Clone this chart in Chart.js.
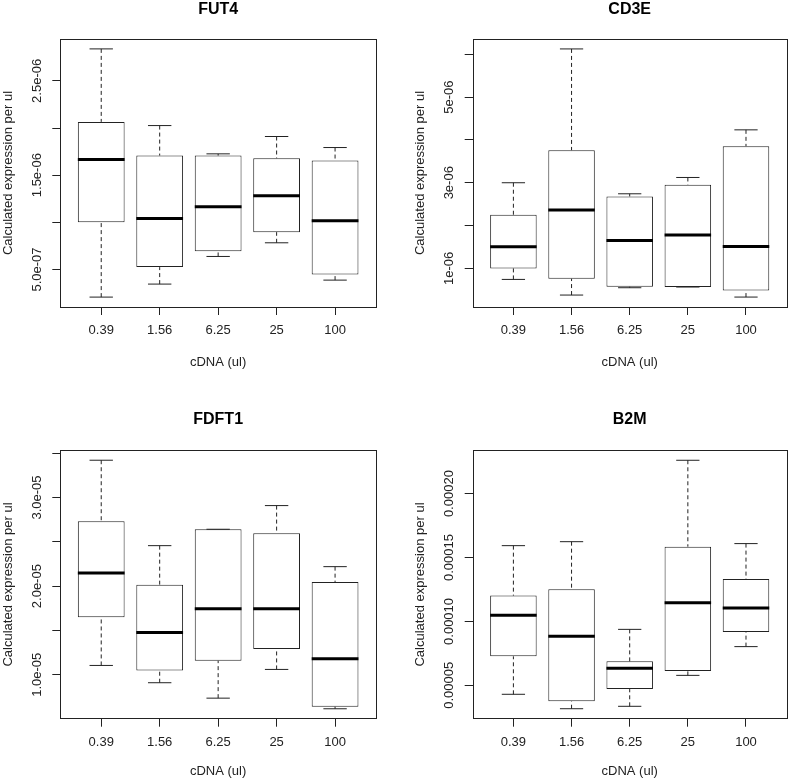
<!DOCTYPE html>
<html>
<head>
<meta charset="utf-8">
<script src="https://cdn.jsdelivr.net/npm/chart.js@4.4.1/dist/chart.umd.min.js"></script>
<style>
  body { margin: 0; background: #fff; }
  #wrap { position: relative; width: 790px; height: 784px; }
  #wrap canvas { position: absolute; }
</style>
</head>
<body>
<div id="wrap">
  <canvas id="fut4" width="395" height="392" style="left:0;top:0"></canvas>
  <canvas id="cd3e" width="395" height="392" style="left:395px;top:0"></canvas>
  <canvas id="fdft1" width="395" height="392" style="left:0;top:392px"></canvas>
  <canvas id="b2m" width="395" height="392" style="left:395px;top:392px"></canvas>
</div>
<script>
// categories (cDNA volume, ul)
const doses = ['0.39', '1.56', '6.25', '25', '100'];

// box stats: lower whisker, Q1, median, Q3, upper whisker
const fut4Lo  = [2.07e-7, 3.45e-7, 6.38e-7, 7.83e-7, 3.87e-7];
const fut4Q1  = [1.002e-6, 5.25e-7, 6.94e-7, 8.96e-7, 4.47e-7];
const fut4Med = [1.666e-6, 1.041e-6, 1.164e-6, 1.281e-6, 1.016e-6];
const fut4Q3  = [2.065e-6, 1.708e-6, 1.708e-6, 1.680e-6, 1.655e-6];
const fut4Hi  = [2.839e-6, 2.026e-6, 1.726e-6, 1.910e-6, 1.793e-6];

const cd3eLo  = [7.43e-7, 3.78e-7, 5.49e-7, 5.65e-7, 3.31e-7];
const cd3eQ1  = [1.000e-6, 7.59e-7, 5.72e-7, 5.65e-7, 4.87e-7];
const cd3eMed = [1.505e-6, 2.361e-6, 1.653e-6, 1.778e-6, 1.513e-6];
const cd3eQ3  = [2.252e-6, 3.760e-6, 2.680e-6, 2.952e-6, 3.854e-6];
const cd3eHi  = [3.000e-6, 6.124e-6, 2.742e-6, 3.123e-6, 4.235e-6];

const fdft1Lo  = [1.105e-5, 0.910e-5, 0.736e-5, 1.060e-5, 0.616e-5];
const fdft1Q1  = [1.648e-5, 1.049e-5, 1.158e-5, 1.290e-5, 0.639e-5];
const fdft1Med = [2.148e-5, 1.478e-5, 1.745e-5, 1.745e-5, 1.181e-5];
const fdft1Q3  = [2.732e-5, 2.017e-5, 2.642e-5, 2.596e-5, 2.047e-5];
const fdft1Hi  = [3.421e-5, 2.457e-5, 2.642e-5, 2.909e-5, 2.220e-5];

const b2mLo  = [4.30e-5, 3.17e-5, 3.36e-5, 5.78e-5, 8.03e-5];
const b2mQ1  = [7.27e-5, 3.75e-5, 4.71e-5, 6.12e-5, 9.17e-5];
const b2mMed = [10.48e-5, 8.84e-5, 6.33e-5, 11.47e-5, 11.05e-5];
const b2mQ3  = [12.02e-5, 12.51e-5, 6.88e-5, 15.85e-5, 13.32e-5];
const b2mHi  = [15.93e-5, 16.24e-5, 9.38e-5, 22.61e-5, 16.09e-5];

// y axis ranges and tick labels (empty = tick without label)
const fut4Range = [1.02e-7, 2.944e-6];
const fut4Ticks = [5e-7, 1e-6, 1.5e-6, 2e-6, 2.5e-6];
const fut4TickText = ['5.0e-07', '', '1.5e-06', '', '2.5e-06'];

const cd3eRange = [0.99e-7, 6.356e-6];
const cd3eTicks = [1e-6, 2e-6, 3e-6, 4e-6, 5e-6, 6e-6];
const cd3eTickText = ['1e-06', '', '3e-06', '', '5e-06', ''];

const fdft1Range = [0.504e-5, 3.533e-5];
const fdft1Ticks = [1e-5, 1.5e-5, 2e-5, 2.5e-5, 3e-5, 3.5e-5];
const fdft1TickText = ['1.0e-05', '', '2.0e-05', '', '3.0e-05', ''];

const b2mRange = [2.39e-5, 23.39e-5];
const b2mTicks = [5e-5, 10e-5, 15e-5, 20e-5];
const b2mTickText = ['0.00005', '0.00010', '0.00015', '0.00020'];

Chart.defaults.font.family = '"Liberation Sans", Arial, Helvetica, sans-serif';
Chart.defaults.font.size = 13;
Chart.defaults.color = '#222';

// frame round the plot + rotated y labels, like base R
const rFrame = {
    id: 'rFrame',
    afterDraw(chart, args, opts) {
        const { ctx, chartArea: a } = chart;
        const y = chart.scales.y;
        ctx.save();
        ctx.strokeStyle = '#222';
        ctx.lineWidth = 1;
        ctx.strokeRect(Math.round(a.left) + 0.5, Math.round(a.top) + 0.5,
            Math.round(a.right - a.left), Math.round(a.bottom - a.top));
        ctx.fillStyle = '#222';
        ctx.font = '13px "Liberation Sans", Arial, sans-serif';
        ctx.textAlign = 'center';
        ctx.textBaseline = 'middle';
        opts.values.forEach((v, i) => {
            if (!opts.text[i]) return;
            ctx.save();
            ctx.translate(a.left - 23, y.getPixelForValue(v));
            ctx.rotate(-Math.PI / 2);
            ctx.fillText(opts.text[i], 0, 0);
            ctx.restore();
        });
        ctx.restore();
    }
};

function boxplot(id, gene, lo, q1, med, q3, hi, range, ticks, tickText, box) {
    // box = plot area inside the 395x392 canvas
    const whiskers = [], caps = [], medians = [];
    doses.forEach((d, i) => {
        const x = i + 1;
        whiskers.push({ x, y: hi[i] }, { x, y: q3[i] }, { x, y: null },
                      { x, y: lo[i] }, { x, y: q1[i] }, { x, y: null });
        caps.push({ x: x - 0.2, y: hi[i] }, { x: x + 0.2, y: hi[i] }, { x, y: null },
                  { x: x - 0.2, y: lo[i] }, { x: x + 0.2, y: lo[i] }, { x, y: null });
        medians.push({ x: x - 0.4, y: med[i] }, { x: x + 0.4, y: med[i] }, { x, y: null });
    });
    const lineBase = { type: 'line', pointRadius: 0, pointHitRadius: 0, fill: false, tension: 0, spanGaps: false };

    new Chart(document.getElementById(id), {
        type: 'bar',
        data: {
            datasets: [
                { ...lineBase, data: medians, borderColor: '#000', borderWidth: 3, order: 1 },
                { ...lineBase, data: caps, borderColor: '#222', borderWidth: 1, order: 2 },
                { ...lineBase, data: whiskers, borderColor: '#222', borderWidth: 1, borderDash: [4, 3], order: 3 },
                {
                    data: doses.map((d, i) => ({ x: i + 1, y: [q1[i], q3[i]] })),
                    backgroundColor: '#fff', borderColor: '#222', borderWidth: 1,
                    borderSkipped: false, barPercentage: 0.8, categoryPercentage: 1, order: 4
                }
            ]
        },
        options: {
            responsive: false,
            animation: false,
            events: [],
            layout: {
                padding: { left: box.left - 60, right: 395 - box.right, top: box.titleTop, bottom: 392 - box.bottom - box.xAxisH }
            },
            plugins: {
                legend: { display: false },
                tooltip: { enabled: false },
                title: {
                    display: true, text: gene, fullSize: false, color: '#000',
                    font: { size: 16, weight: 'bold' },
                    padding: { top: 0, bottom: box.top - box.titleTop - 19.2 }
                },
                rFrame: { values: ticks, text: tickText }
            },
            scales: {
                x: {
                    type: 'linear', min: 0.3, max: 5.7, offset: false,
                    afterBuildTicks: s => { s.ticks = doses.map((d, i) => ({ value: i + 1 })); },
                    afterFit: s => { s.height = box.xAxisH; },
                    ticks: { callback: v => doses[v - 1], padding: 8, autoSkip: false, maxRotation: 0 },
                    grid: { drawOnChartArea: false, drawTicks: true, tickLength: 8, color: '#222', offset: false },
                    border: { display: false },
                    title: { display: true, text: 'cDNA (ul)', padding: 0 }
                },
                y: {
                    min: range[0], max: range[1],
                    afterBuildTicks: s => { s.ticks = ticks.map(v => ({ value: v })); },
                    afterFit: s => { s.width = 60; },
                    ticks: { display: false },
                    grid: { drawOnChartArea: false, drawTicks: true, tickLength: 8, color: '#222' },
                    border: { display: false },
                    title: { display: true, text: 'Calculated expression per ul', padding: 0 }
                }
            }
        },
        plugins: [rFrame]
    });
}

boxplot('fut4', 'FUT4', fut4Lo, fut4Q1, fut4Med, fut4Q3, fut4Hi, fut4Range, fut4Ticks, fut4TickText,
    { left: 60.3, right: 376, top: 39, bottom: 307, titleTop: 0, xAxisH: 63 });
boxplot('cd3e', 'CD3E', cd3eLo, cd3eQ1, cd3eMed, cd3eQ3, cd3eHi, cd3eRange, cd3eTicks, cd3eTickText,
    { left: 77.7, right: 391.7, top: 39, bottom: 307, titleTop: 0, xAxisH: 63 });
boxplot('fdft1', 'FDFT1', fdft1Lo, fdft1Q1, fdft1Med, fdft1Q3, fdft1Hi, fdft1Range, fdft1Ticks, fdft1TickText,
    { left: 60.3, right: 376, top: 58.3, bottom: 326.7, titleTop: 18, xAxisH: 61 });
boxplot('b2m', 'B2M', b2mLo, b2mQ1, b2mMed, b2mQ3, b2mHi, b2mRange, b2mTicks, b2mTickText,
    { left: 77.7, right: 391.7, top: 58.3, bottom: 326.7, titleTop: 18, xAxisH: 61 });
</script>
</body>
</html>
